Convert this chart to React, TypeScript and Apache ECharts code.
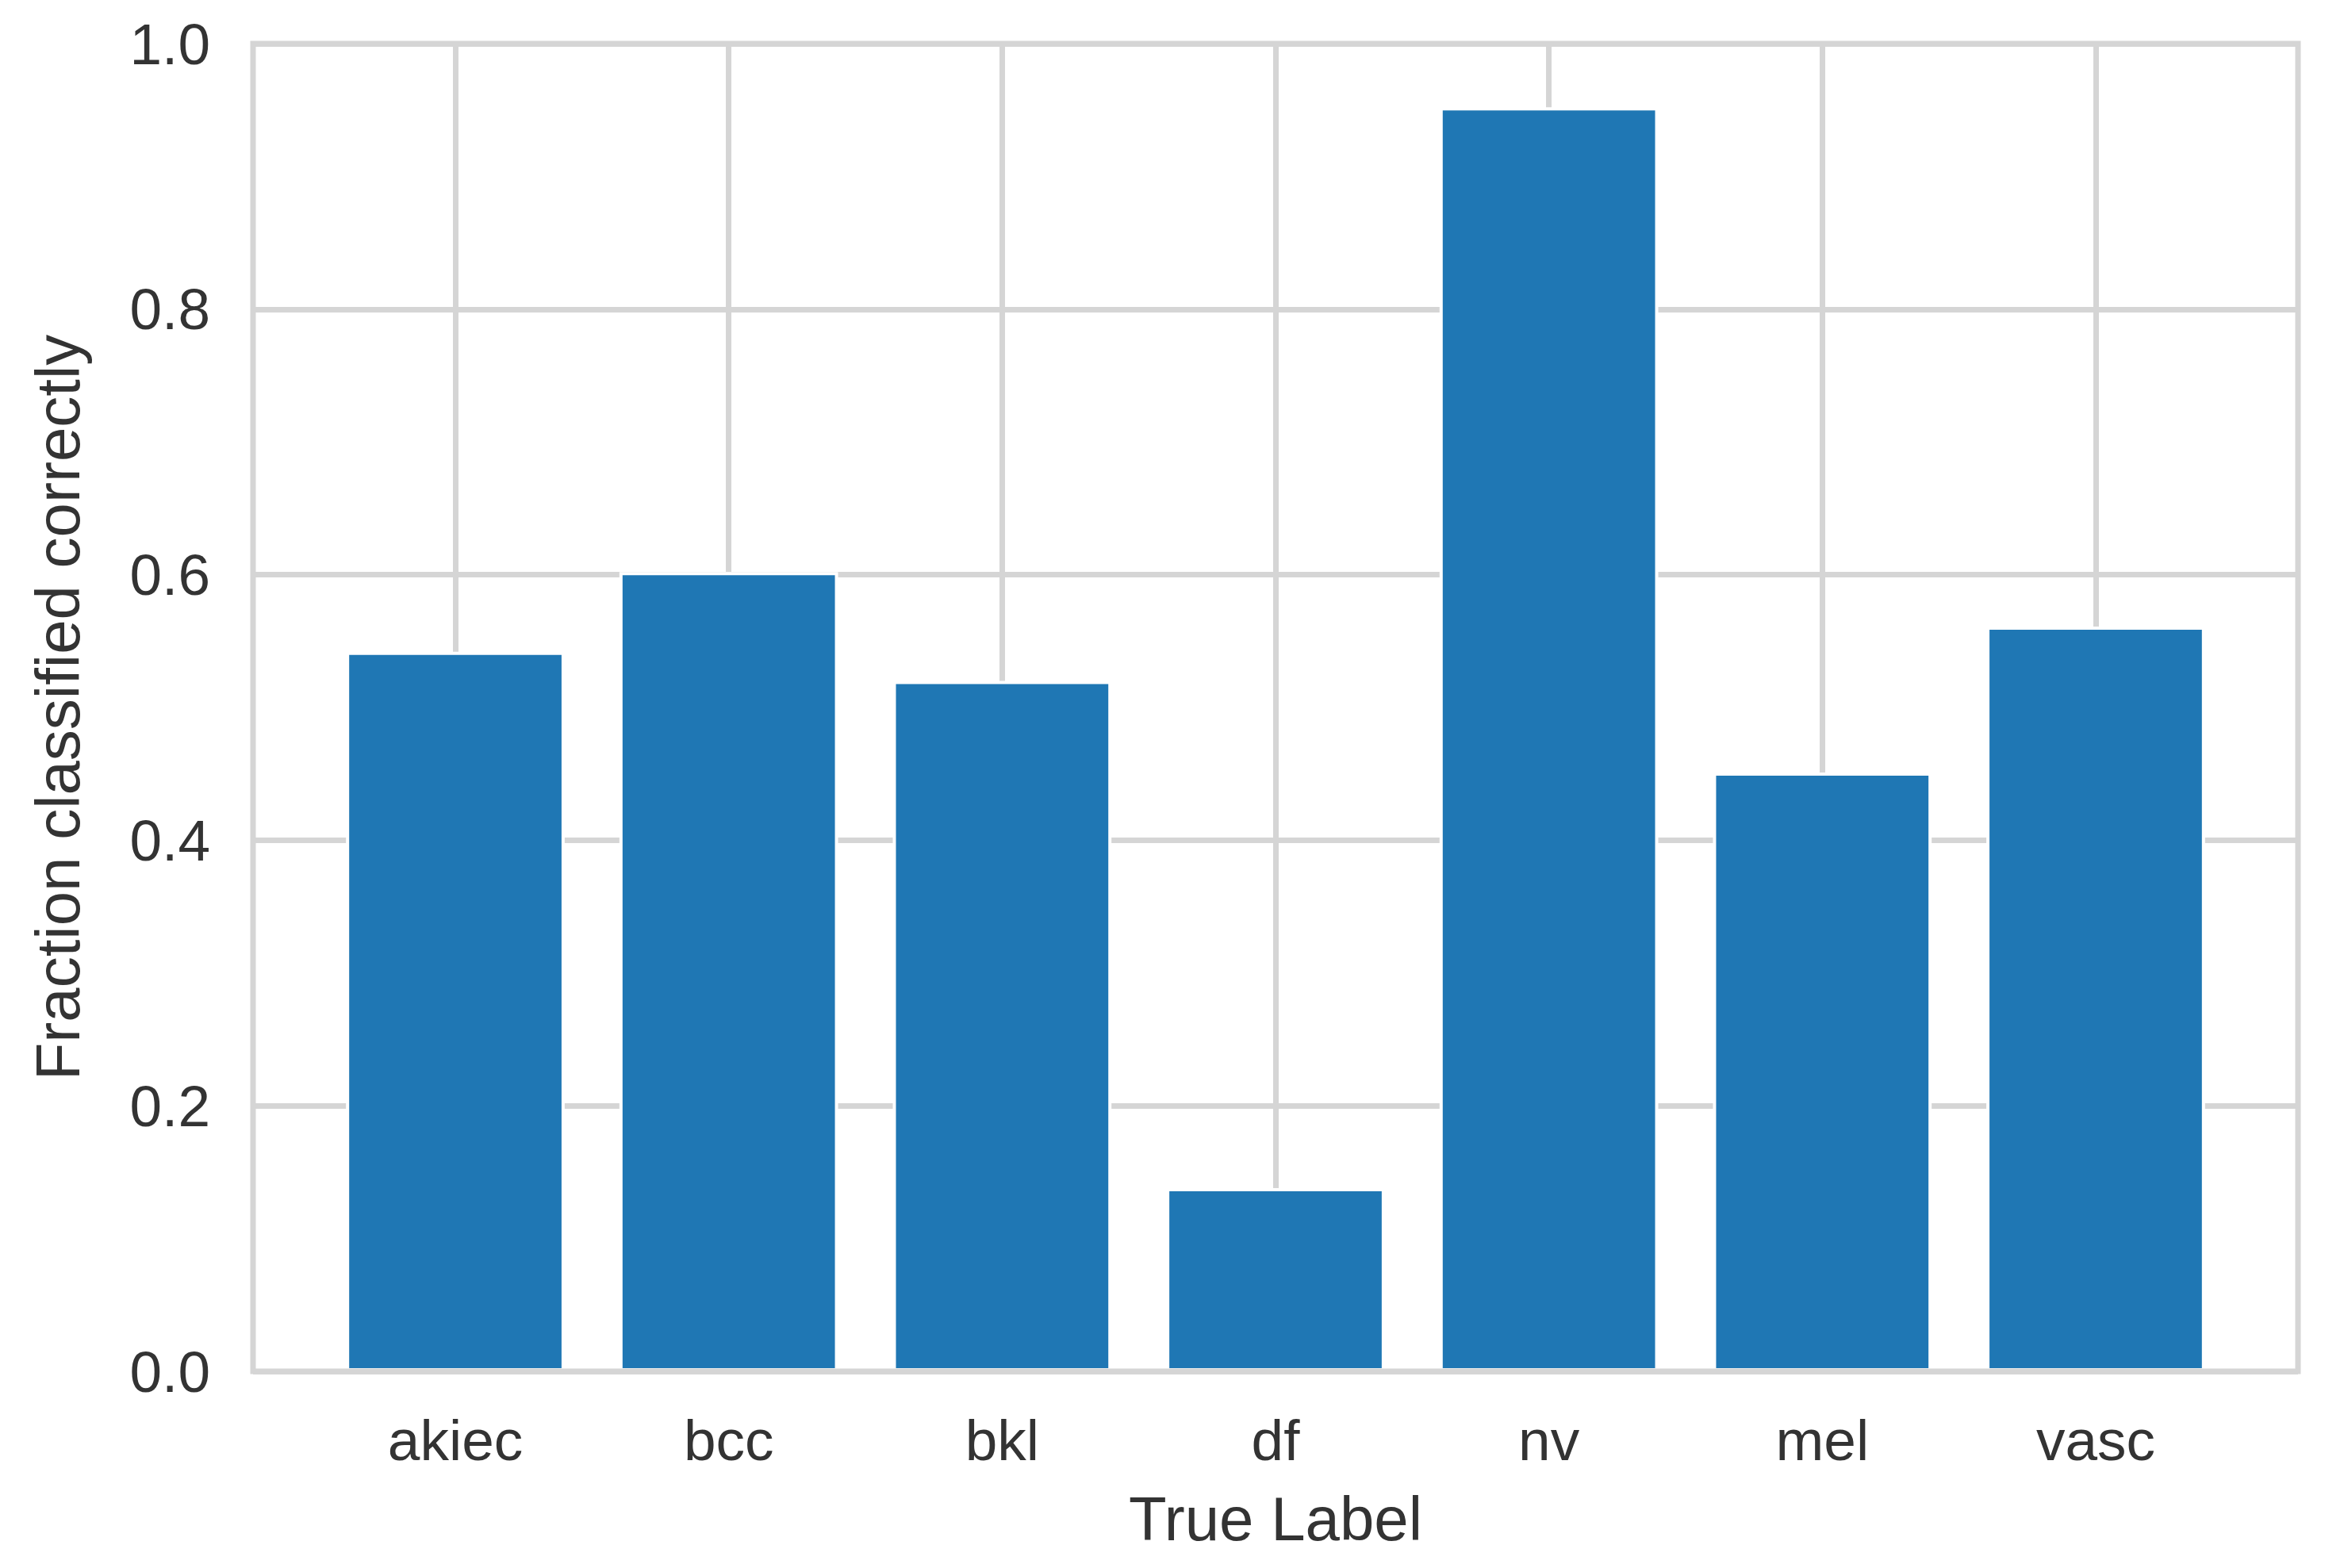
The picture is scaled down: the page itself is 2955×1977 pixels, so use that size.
import React, { useEffect, useRef } from "react";
import * as echarts from "echarts";

const categories = ["akiec", "bcc", "bkl", "df", "nv", "mel", "vasc"];
const fractionCorrect = [0.542, 0.602, 0.52, 0.138, 0.952, 0.451, 0.561];
const yTicks = [0, 0.2, 0.4, 0.6, 0.8, 1.0];

const GRID_COLOR = "#d5d5d5";
const TEXT_COLOR = "#333333";
const FONT = "'Liberation Sans', Arial, sans-serif";

export default function App() {
  const ref = useRef<HTMLDivElement>(null);

  useEffect(() => {
    if (!ref.current) return;
    const chart = echarts.init(ref.current, undefined, { renderer: "svg" });

    const frameLeft = 319;
    const frameRight = 2897;
    const frameTop = 55;
    const frameBottom = 1729;
    const unit = (frameRight - frameLeft) / 7.48;
    const barLeft = frameLeft + 0.74 * unit;
    const barRight = frameRight - 0.74 * unit;

    chart.setOption({
      animation: false,
      backgroundColor: "#ffffff",
      textStyle: { fontFamily: FONT },
      grid: [
        {
          left: frameLeft,
          top: frameTop,
          width: frameRight - frameLeft,
          height: frameBottom - frameTop,
          show: true,
          borderColor: GRID_COLOR,
          borderWidth: 7,
          backgroundColor: "transparent",
          z: 5,
        },
        {
          left: barLeft,
          top: frameTop,
          width: barRight - barLeft,
          height: frameBottom - frameTop,
        },
      ],
      xAxis: [
        {
          gridIndex: 0,
          type: "value",
          min: 0,
          max: 1,
          show: false,
        },
        {
          gridIndex: 1,
          type: "category",
          data: categories,
          boundaryGap: false,
          axisLine: { show: false },
          axisTick: { show: false },
          axisLabel: {
            interval: 0,
            fontSize: 73,
            color: TEXT_COLOR,
            fontFamily: FONT,
            margin: 50,
          },
          splitLine: {
            show: true,
            interval: 0,
            lineStyle: { color: GRID_COLOR, width: 7 },
          },
          name: "True Label",
          nameLocation: "middle",
          nameGap: 147,
          nameTextStyle: { fontSize: 78, color: TEXT_COLOR, fontFamily: FONT },
        },
      ],
      yAxis: [
        {
          gridIndex: 0,
          type: "value",
          min: yTicks[0],
          max: yTicks[yTicks.length - 1],
          interval: 0.2,
          axisLine: { show: false },
          axisTick: { show: false },
          axisLabel: {
            fontSize: 73,
            color: TEXT_COLOR,
            fontFamily: FONT,
            margin: 54,
            formatter: (v: number) => v.toFixed(1),
          },
          splitLine: { show: true, lineStyle: { color: GRID_COLOR, width: 7 } },
          name: "Fraction classified correctly",
          nameLocation: "middle",
          nameRotate: 90,
          nameGap: 207,
          nameTextStyle: { fontSize: 78, color: TEXT_COLOR, fontFamily: FONT },
        },
        {
          gridIndex: 1,
          type: "value",
          min: 0,
          max: 1,
          show: false,
        },
      ],
      series: [
        {
          type: "bar",
          xAxisIndex: 1,
          yAxisIndex: 1,
          data: fractionCorrect,
          barWidth: "80%",
          clip: false,
          itemStyle: { color: "#1f77b4", borderColor: "#ffffff", borderWidth: 4 },
        },
      ],
    });

    return () => chart.dispose();
  }, []);

  return (
    <div
      ref={ref}
      style={{ position: "fixed", left: 0, top: 0, width: 2955, height: 1977 }}
    />
  );
}
